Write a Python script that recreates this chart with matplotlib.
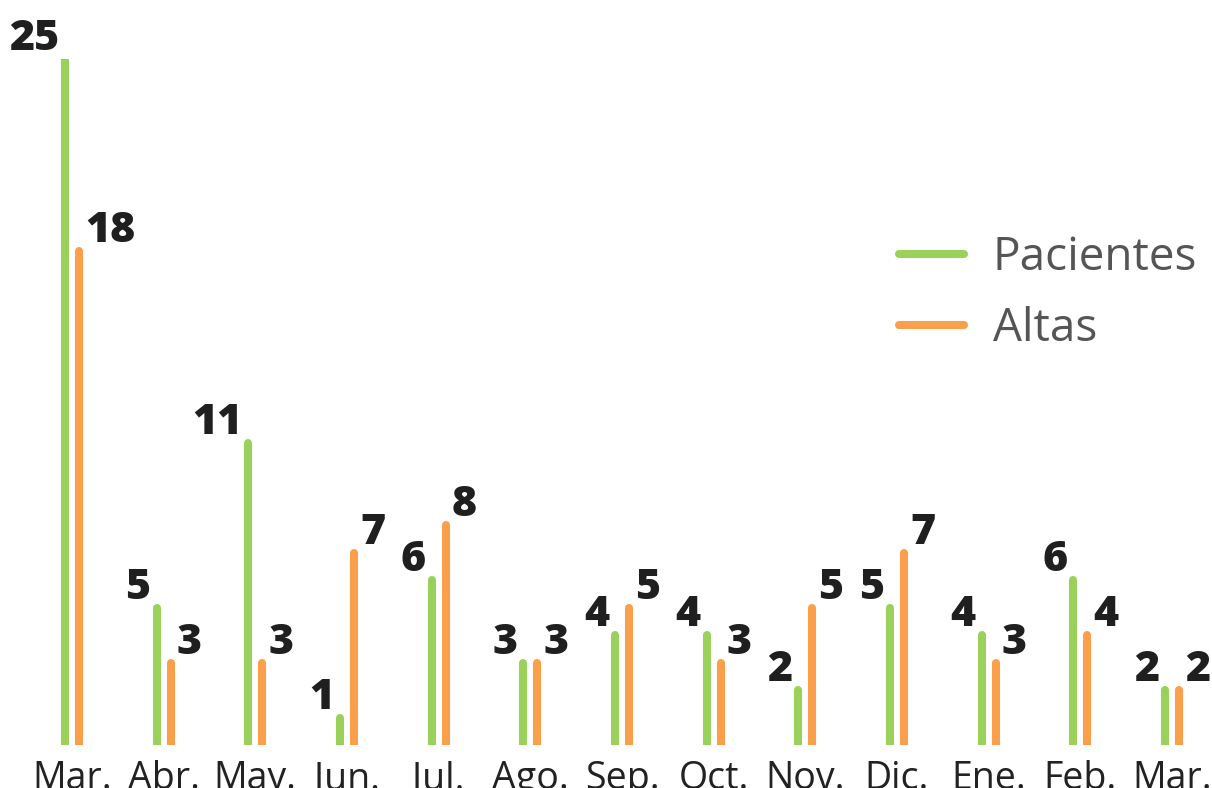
import numpy as np
import matplotlib.pyplot as plt

months = ["Mar.", "Abr.", "May.", "Jun.", "Jul.", "Ago.", "Sep.", "Oct.", "Nov.", "Dic.", "Ene.", "Feb.", "Mar."]
pacientes = [25, 5, 11, 1, 6, 3, 4, 4, 2, 5, 4, 6, 2]
altas = [18, 3, 3, 7, 8, 3, 5, 3, 5, 7, 3, 4, 2]

green = "#99d15a"
orange = "#fb9f4b"

plt.rcParams["font.family"] = ["Open Sans", "DejaVu Sans"]

fig = plt.figure(figsize=(12.12, 7.88), dpi=100)
ax = fig.add_axes([0, 0.0546, 1, 0.8704])

x = np.arange(len(months))
off = 0.077
lw = 5.8

for xi, p, a in zip(x, pacientes, altas):
    ax.plot([xi - off, xi - off], [0, p], color=green, lw=lw, solid_capstyle="round")
    ax.plot([xi + off, xi + off], [0, a], color=orange, lw=lw, solid_capstyle="round")
    ax.annotate(str(p), (xi - off, p), xytext=(-6, -1), textcoords="offset pixels",
                ha="right", va="bottom", fontsize=31, fontweight="heavy",
                color="#1f1f1f", annotation_clip=False)
    ax.annotate(str(a), (xi + off, a), xytext=(6, -1), textcoords="offset pixels",
                ha="left", va="bottom", fontsize=31, fontweight="heavy",
                color="#1f1f1f", annotation_clip=False)

# legend handles
ax.plot([], [], color=green, lw=lw, solid_capstyle="round", label="Pacientes")
ax.plot([], [], color=orange, lw=lw, solid_capstyle="round", label="Altas")
leg = ax.legend(loc="upper right", bbox_to_anchor=(1.003, 0.725), bbox_transform=fig.transFigure,
                frameon=False, fontsize=33, handlelength=1.42, handletextpad=0.62,
                labelspacing=0.55, borderaxespad=0)
for t in leg.get_texts():
    t.set_color("#555555")

ax.set_xlim(-0.785, 12.436)
ax.set_ylim(0, 25)
ax.set_xticks(x)
ax.set_xticklabels(months, fontsize=27, color="#222222")
ax.tick_params(axis="x", length=0, pad=11)
ax.set_yticks([])
for s in ax.spines.values():
    s.set_visible(False)

fig.savefig("out.png", dpi=100)
